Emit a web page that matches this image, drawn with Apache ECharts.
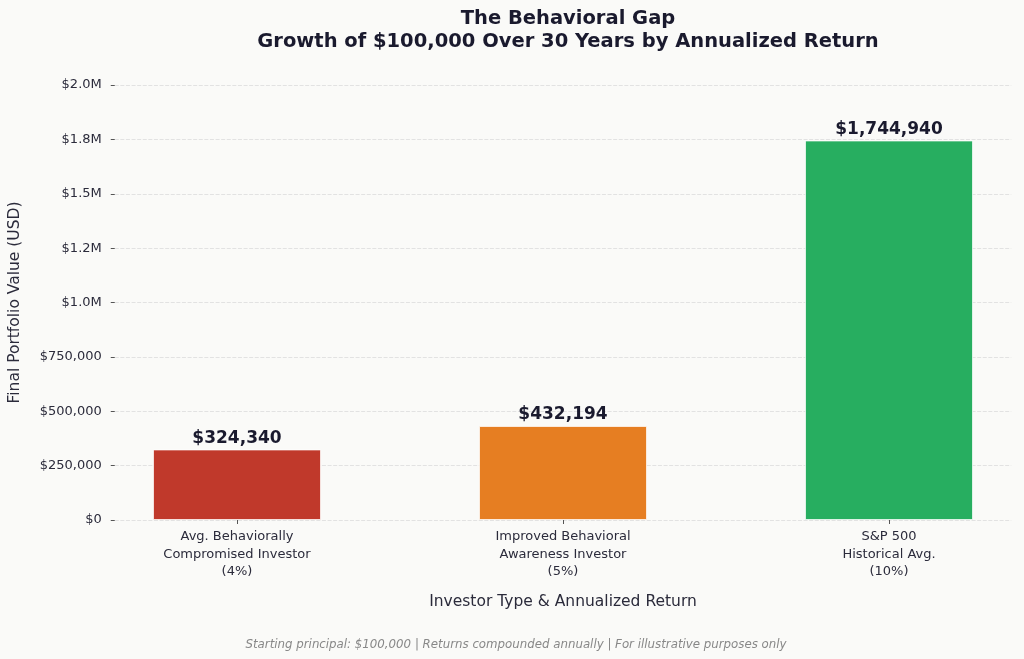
<!DOCTYPE html>
<html>
<head>
<meta charset="utf-8">
<script src="https://cdn.jsdelivr.net/npm/echarts@6/dist/echarts.min.js"></script>
<style>
html,body{margin:0;padding:0;background:#fafaf8;}
#chart{width:1024px;height:659px;}
</style>
</head>
<body>
<div id="chart"></div>
<script>
const categories = [
  "Avg. Behaviorally\nCompromised Investor\n(4%)",
  "Improved Behavioral\nAwareness Investor\n(5%)",
  "S&P 500\nHistorical Avg.\n(10%)"
];
const finalValues = [324340, 432194, 1744940];
const barColors = ["#c0392b", "#e67e22", "#27ae60"];
const yTickValues = [0, 250000, 500000, 750000, 1000000, 1250000, 1500000, 1750000, 2000000];
const yTickLabels = ["$0", "$250,000", "$500,000", "$750,000", "$1.0M", "$1.2M", "$1.5M", "$1.8M", "$2.0M"];

const FONT = "DejaVu Sans";
const chart = echarts.init(document.getElementById('chart'), null, {renderer: 'canvas'});

const seriesData = finalValues.map((v, i) => ({
  value: [i, v],
  itemStyle: {color: barColors[i]}
}));

chart.setOption({
  backgroundColor: '#fafaf8',
  textStyle: {fontFamily: FONT},
  title: [
    {
      text: 'The Behavioral Gap\nGrowth of $100,000 Over 30 Years by Annualized Return',
      left: 563, top: 2, textAlign: 'center',
      textStyle: {fontFamily: FONT, fontSize: 19.5, fontWeight: 'bold', color: '#1a1a2e', lineHeight: 23.5}
    },
    {
      text: 'Starting principal: $100,000 | Returns compounded annually | For illustrative purposes only',
      left: 511, top: 634, textAlign: 'center',
      textStyle: {fontFamily: FONT, fontSize: 11.8, fontStyle: 'italic', fontWeight: 'normal', color: '#888888'}
    }
  ],
  grid: {left: 114.75, right: 1024 - 1011.25, top: 85, bottom: 659 - 520, containLabel: false, outerBoundsMode: 'none'},
  xAxis: {
    type: 'value',
    min: -0.375, max: 2.375,
    name: 'Investor Type & Annualized Return',
    nameLocation: 'middle',
    nameGap: 74,
    nameTextStyle: {fontFamily: FONT, fontSize: 15.5, color: '#2b2b3b'},
    axisLine: {show: false, onZero: false},
    splitLine: {show: false},
    axisTick: {show: true, customValues: [0, 1, 2], length: 4, lineStyle: {color: '#555', width: 1}},
    axisLabel: {
      customValues: [0, 1, 2],
      formatter: v => categories[Math.round(v)] || '',
      fontFamily: FONT, fontSize: 13, color: '#2b2b3b', lineHeight: 17.5, margin: 8
    }
  },
  yAxis: {
    type: 'value',
    min: 0, max: 2000000,
    name: 'Final Portfolio Value (USD)',
    nameLocation: 'middle',
    nameGap: 92,
    nameTextStyle: {fontFamily: FONT, fontSize: 15.5, color: '#2b2b3b'},
    axisLine: {show: false, onZero: false},
    axisTick: {show: true, customValues: yTickValues, length: 4, lineStyle: {color: '#555', width: 1}},
    axisLabel: {
      customValues: yTickValues,
      formatter: v => yTickLabels[yTickValues.indexOf(v)] ?? '',
      fontFamily: FONT, fontSize: 13, color: '#2b2b3b', margin: 13
    },
    interval: 250000,
    splitLine: {show: true, lineStyle: {color: '#dcdcdc', type: [4, 1.6], width: 0.8}}
  },
  series: [{
    type: 'bar',
    data: seriesData,
    barWidth: 168,
    itemStyle: {borderColor: 'rgba(255,255,255,0.7)', borderWidth: 1},
    label: {
      show: true, position: 'top', distance: 2.5,
      formatter: p => '$' + p.value[1].toLocaleString('en-US'),
      fontFamily: FONT, fontSize: 17, fontWeight: 'bold', color: '#1a1a2e'
    },
    animation: false
  }],
  animation: false
});
</script>
</body>
</html>
